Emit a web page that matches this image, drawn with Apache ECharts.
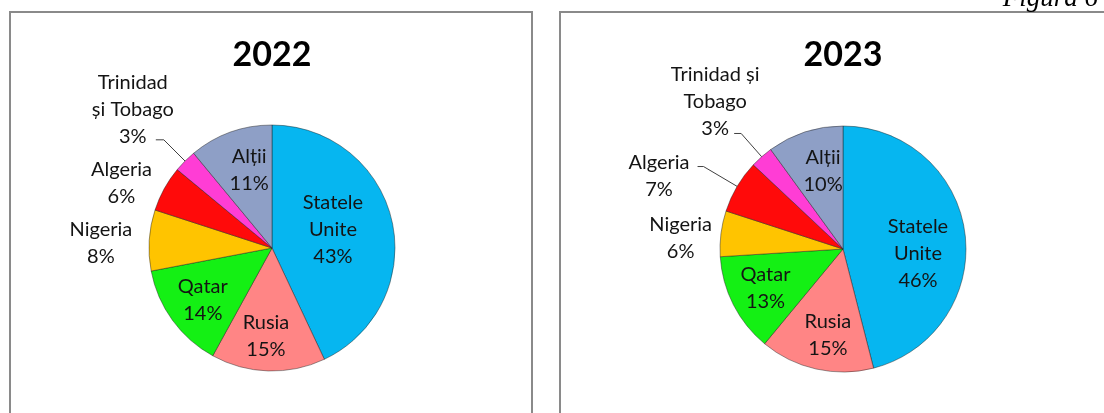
<!DOCTYPE html>
<html><head><meta charset="utf-8">
<script src="https://cdn.jsdelivr.net/npm/echarts@6/dist/echarts.min.js"></script>
<style>html,body{margin:0;padding:0;background:#fff}#c{width:1104px;height:413px}</style>
</head><body><div id="c"></div>
<script>
// ---- data ----
const categories = ['Statele Unite', 'Rusia', 'Qatar', 'Nigeria', 'Algeria', 'Trinidad și Tobago', 'Alții'];
const values2022 = [43, 15, 14, 8, 6, 3, 11];
const values2023 = [46, 15, 13, 6, 7, 3, 10];
const labelText2022 = ['Statele\nUnite', 'Rusia', 'Qatar', 'Nigeria', 'Algeria', 'Trinidad\nși Tobago', 'Alții'];
const labelText2023 = ['Statele\nUnite', 'Rusia', 'Qatar', 'Nigeria', 'Algeria', 'Trinidad și\nTobago', 'Alții'];
const years = ['2022', '2023'];
const figureCaption = 'Figura 6';

// ---- styles / placement ----
const colors = ['#06B6F0', '#FF8585', '#14F014', '#FFC400', '#FF0A0A', '#FF3DD5', '#8E9FC6'];
const placement2022 = [
  {pos: 'inside', dx: -2, dy: -4},
  {pos: 'inside', dx: -4, dy: 24},
  {pos: 'inside', dx: -17, dy: 14},
  {pos: 'outside', line: false, len: 6, len2: 6, dx: 0, dy: 3},
  {pos: 'outside', line: false, len: 6, len2: 2, dx: 0, dy: -3},
  {pos: 'outside', line: true, len: 30, len2: 8, center: true, dx: -18, dy: -30},
  {pos: 'inside', dx: -1, dy: -17}
];
const placement2023 = [
  {pos: 'inside', dx: 11, dy: 13},
  {pos: 'inside', dx: -1, dy: 23},
  {pos: 'inside', dx: -20, dy: 10},
  {pos: 'outside', line: false, len: 4, len2: 0, dx: 0, dy: 5},
  {pos: 'outside', line: true, len: 39, len2: 6, dx: -3, dy: 10},
  {pos: 'outside', line: true, len: 31, len2: 7, center: true, dx: -14, dy: -32},
  {pos: 'inside', dx: 0, dy: -17}
];
const FONT = 'Lato';

function pad(p) {
  const k = (p.pos === 'inside' || p.center) ? 2 : 1;
  const dx = p.dx || 0, dy = p.dy || 0;
  return [dy > 0 ? 2 * dy : 0, dx < 0 ? -k * dx : 0, dy < 0 ? -2 * dy : 0, dx > 0 ? k * dx : 0];
}

function makeSeries(name, values, texts, placement, center) {
  return {
    type: 'pie', name: name, center: center, radius: 123,
    startAngle: 90, clockwise: true, avoidLabelOverlap: false, animation: false,
    itemStyle: {borderColor: 'rgba(30,30,30,0.45)', borderWidth: 1},
    label: {
      show: true, color: '#141414', fontFamily: FONT, fontSize: 20, lineHeight: 27,
      distanceToLabelLine: 5,
      formatter: p => texts[p.dataIndex].split('\n').map(t => '{c|' + t + '}').join('\n') + '\n{c|' + p.value + '%}',
      rich: {c: {align: 'center', fontFamily: FONT, fontSize: 20, lineHeight: 27, color: '#141414'}}
    },
    labelLine: {lineStyle: {color: '#404040', width: 1}},
    labelLayout: p => placement[p.dataIndex].center ? {align: 'center'} : {},
    data: values.map((v, i) => ({
      name: categories[i], value: v,
      itemStyle: {color: colors[i]},
      label: {position: placement[i].pos, padding: pad(placement[i])},
      labelLine: {show: !!placement[i].line, length: placement[i].len || 0, length2: placement[i].len2 || 0}
    }))
  };
}

const chart = echarts.init(document.getElementById('c'), null, {renderer: 'canvas'});
chart.setOption({
  backgroundColor: '#ffffff',
  graphic: [
    {type: 'rect', silent: true, z: -10, shape: {x: 10, y: 12, width: 522, height: 440},
     style: {fill: 'none', stroke: '#8a8a8a', lineWidth: 2}},
    {type: 'rect', silent: true, z: -10, shape: {x: 560, y: 12, width: 600, height: 440},
     style: {fill: 'none', stroke: '#8a8a8a', lineWidth: 2}},
    {type: 'text', x: 272, y: 55, style: {text: years[0], font: 'bold 34px ' + FONT, fill: '#000', textAlign: 'center', textVerticalAlign: 'middle'}},
    {type: 'text', x: 843, y: 55, style: {text: years[1], font: 'bold 34px ' + FONT, fill: '#000', textAlign: 'center', textVerticalAlign: 'middle'}},
    {type: 'text', x: 1098, y: 12, style: {text: figureCaption, font: 'italic 27px "Liberation Serif"', fill: '#000', textAlign: 'right', textVerticalAlign: 'bottom'}}
  ],
  series: [
    makeSeries(years[0], values2022, labelText2022, placement2022, [272, 248]),
    makeSeries(years[1], values2023, labelText2023, placement2023, [843, 249])
  ]
});
</script>
</body></html>
